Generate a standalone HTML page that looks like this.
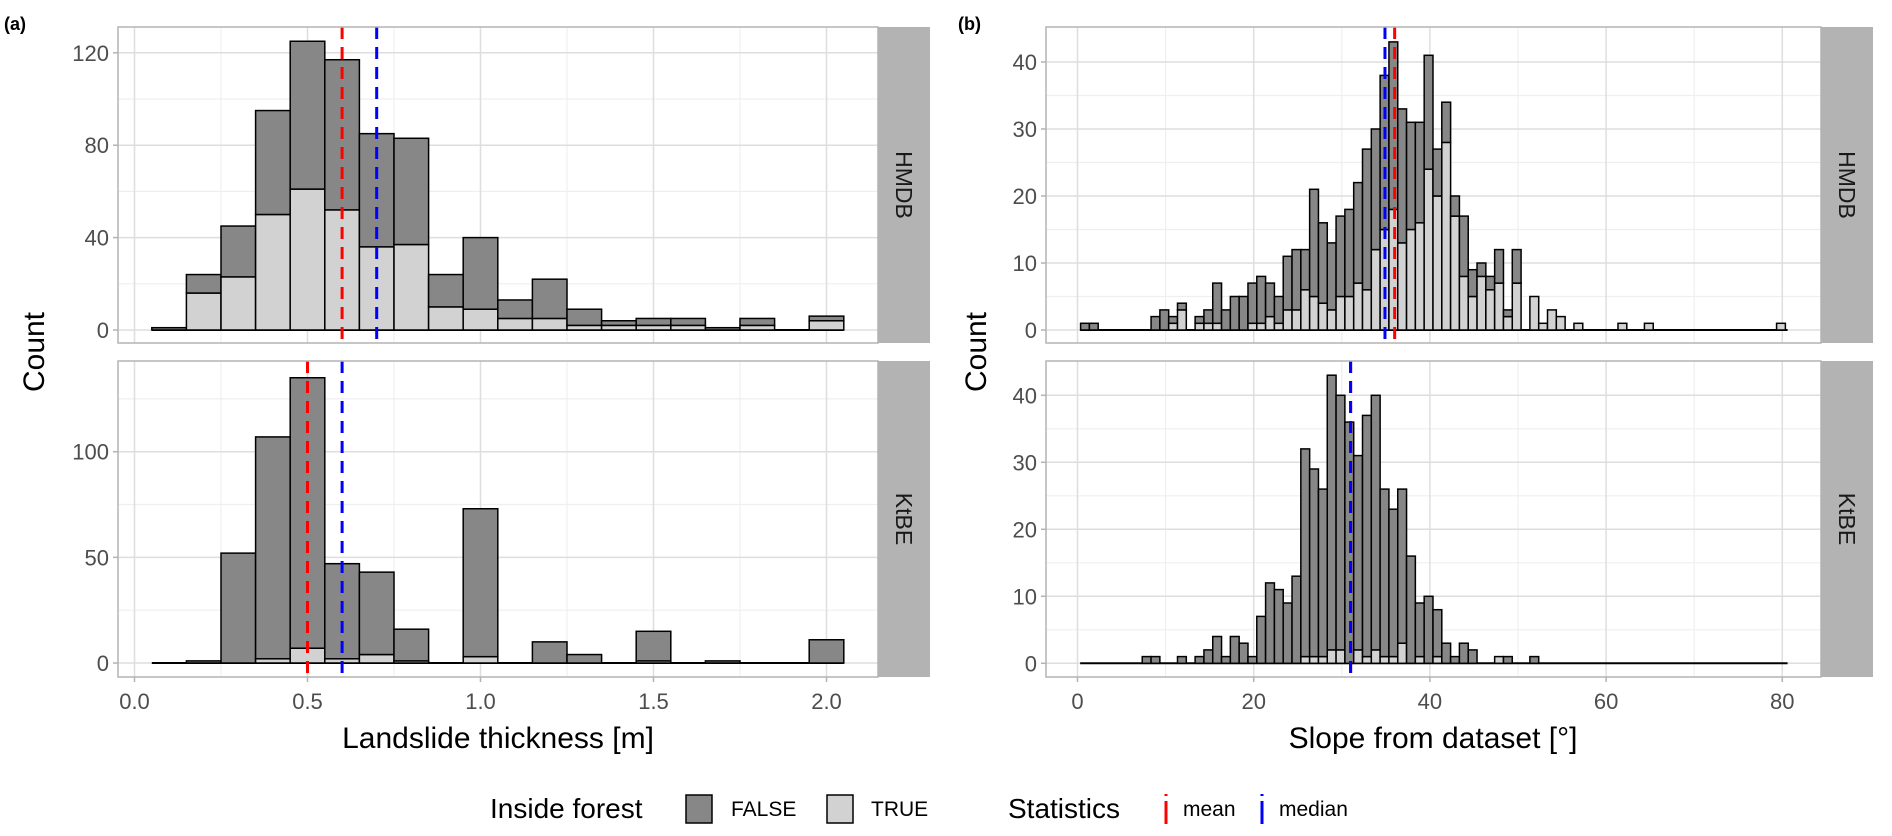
<!DOCTYPE html>
<html><head><meta charset="utf-8"><style>
html,body{margin:0;padding:0;background:#fff;}
svg{display:block;font-family:"Liberation Sans",Arial,sans-serif;}
</style></head><body>
<svg id="chart" width="1892" height="836" viewBox="0 0 1892 836" xmlns="http://www.w3.org/2000/svg"></svg>
<script>
// ---- Panel (a) data: landslide thickness ----
const aCategories = [0.1,0.2,0.3,0.4,0.5,0.6,0.7,0.8,0.9,1.0,1.1,1.2,1.3,1.4,1.5,1.6,1.7,1.8,1.9,2.0];
const aHmdbTotal = [1,24,45,95,125,117,85,83,24,40,13,22,9,4,5,5,1,5,0,6];
const aHmdbTrue  = [0,16,23,50,61,52,36,37,10,9,5,5,2,2,2,2,0,2,0,4];
const aKtbeTotal = [0,1,52,107,135,47,43,16,0,73,0,10,4,0,15,0,1,0,0,11];
const aKtbeTrue  = [0,0,0,2,7,2,4,1,0,3,0,0,0,0,1,0,0,0,0,0];
const aStatsHmdb = [0.6,0.7]; // mean, median
const aStatsKtbe = [0.5,0.6];
const aXTicks = ["0.0","0.5","1.0","1.5","2.0"];
const aYTicksTop = [0,40,80,120];
const aYTicksBot = [0,50,100];
// ---- Panel (b) data: slope ----
const bCategories = Array.from({length:80},(_, i)=>i+1);
const bHmdbTotal = [1,1,0,0,0,0,0,0,2,3, 2,4,0,2,3,7,3,5,5,7, 8,7,5,11,12,12,21,16,13,17, 18,22,27,30,38,43,33,31,31,41, 27,34,20,17,9,10,8,12,3,12, 0,5,1,3,2,0,1,0,0,0, 0,1,0,0,1,0,0,0,0,0, 0,0,0,0,0,0,0,0,0,1];
const bHmdbTrue  = [0,0,0,0,0,0,0,0,0,0, 1,3,0,1,1,1,0,0,0,1, 1,2,1,3,3,6,5,4,3,5, 5,7,6,12,15,18,13,15,16,24, 20,28,17,8,5,8,6,7,2,7, 0,5,1,3,2,0,1,0,0,0, 0,1,0,0,1,0,0,0,0,0, 0,0,0,0,0,0,0,0,0,1];
const bKtbeTotal = [0,0,0,0,0,0,0,1,1,0, 0,1,0,1,2,4,1,4,3,1, 7,12,11,9,13,32,29,26,43,40, 36,31,37,40,26,23,26,16,9,10, 8,3,1,3,2,0,0,1,1,0, 0,1,0,0,0,0,0,0,0,0, 0,0,0,0,0,0,0,0,0,0, 0,0,0,0,0,0,0,0,0,0];
const bKtbeTrue  = [0,0,0,0,0,0,0,0,0,0, 0,0,0,0,0,0,0,0,0,0, 0,0,0,0,0,1,1,1,2,2, 0,2,1,2,1,1,3,0,1,0, 1,0,0,0,0,0,0,1,0,0, 0,0,0,0,0,0,0,0,0,0, 0,0,0,0,0,0,0,0,0,0, 0,0,0,0,0,0,0,0,0,0];
const bStatsHmdb = [36.0,34.9];
const bStatsKtbe = [31.0,31.0];
const bXTicks = [0,20,40,60,80];
const bYTicks = [0,10,20,30,40];

const NS="http://www.w3.org/2000/svg";
const svg=document.getElementById('chart');
function el(tag,attrs,parent){const e=document.createElementNS(NS,tag);for(const k in attrs)e.setAttribute(k,attrs[k]);(parent||svg).appendChild(e);return e;}

const DARK="#878787", LIGHT="#d2d2d2";
const ax=v=>134.5+346*v;
const bx=v=>1077.5+8.81*v;
const panels=[
 {name:'a-hmdb',x0:118,x1:878,y0:27,y1:343,xs:ax,ys:v=>330-2.31*v,yt:aYTicksTop,ymin:[20,60,100],xmaj:[0,0.5,1,1.5,2],xmin:[0.25,0.75,1.25,1.75],cats:aCategories,tot:aHmdbTotal,tru:aHmdbTrue,w:0.1,off:0,st:aStatsHmdb,strip:'HMDB',range:[0.05,2.05]},
 {name:'a-ktbe',x0:118,x1:878,y0:361,y1:677,xs:ax,ys:v=>663-2.113*v,yt:aYTicksBot,ymin:[25,75,125],xmaj:[0,0.5,1,1.5,2],xmin:[0.25,0.75,1.25,1.75],cats:aCategories,tot:aKtbeTotal,tru:aKtbeTrue,w:0.1,off:0,st:aStatsKtbe,strip:'KtBE',range:[0.05,2.05],xl:aXTicks},
 {name:'b-hmdb',x0:1046,x1:1821,y0:27,y1:343,xs:bx,ys:v=>330-6.7*v,yt:bYTicks,ymin:[5,15,25,35],xmaj:[0,20,40,60,80],xmin:[10,30,50,70],cats:bCategories,tot:bHmdbTotal,tru:bHmdbTrue,w:1.0,off:-0.15,st:bStatsHmdb,strip:'HMDB',range:[0.3,80.6]},
 {name:'b-ktbe',x0:1046,x1:1821,y0:361,y1:677,xs:bx,ys:v=>663.3-6.7*v,yt:bYTicks,ymin:[5,15,25,35],xmaj:[0,20,40,60,80],xmin:[10,30,50,70],cats:bCategories,tot:bKtbeTotal,tru:bKtbeTrue,w:1.0,off:-0.15,st:bStatsKtbe,strip:'KtBE',range:[0.3,80.6],xl:bXTicks.map(String)}
];

panels.forEach(p=>{
  const g=el('g',{});
  
  
  // minor grid
  p.ymin.forEach(v=>{const y=p.ys(v);const l=el('line',{x1:p.x0,x2:p.x1,y1:y,y2:y,stroke:'#efefef','stroke-width':1.2},g);});
  p.xmin.forEach(v=>{const x=p.xs(v);const l=el('line',{x1:x,x2:x,y1:p.y0,y2:p.y1,stroke:'#efefef','stroke-width':1.2},g);});
  // major grid
  p.yt.forEach(v=>{const y=p.ys(v);const l=el('line',{x1:p.x0,x2:p.x1,y1:y,y2:y,stroke:'#dedede','stroke-width':1.5},g);});
  p.xmaj.forEach(v=>{const x=p.xs(v);const l=el('line',{x1:x,x2:x,y1:p.y0,y2:p.y1,stroke:'#dedede','stroke-width':1.5},g);});
  // baseline
  const base=el('line',{x1:p.xs(p.range[0]),x2:p.xs(p.range[1]),y1:p.ys(0),y2:p.ys(0),stroke:'#000','stroke-width':2},g);
  
  
  // bars
  p.cats.forEach((c,i)=>{
    const tot=p.tot[i], tr=p.tru[i];
    if(tot<=0)return;
    const xl=p.xs(c+p.off-p.w/2), xr=p.xs(c+p.off+p.w/2);
    const y0=p.ys(0), yt=p.ys(tr), yall=p.ys(tot);
    if(tr>0){
      const r=el('rect',{x:xl,y:yt,width:xr-xl,height:y0-yt,fill:LIGHT,stroke:'#000','stroke-width':1.5},g);
      
      
    }
    if(tot-tr>0){
      const r=el('rect',{x:xl,y:yall,width:xr-xl,height:yt-yall,fill:DARK,stroke:'#000','stroke-width':1.5},g);
      
      
    }
  });
  // stats lines
  const cols=['#ff0000','#0000ff'];
  p.st.forEach((v,k)=>{
    const x=p.xs(v);
    const l=el('line',{x1:x,x2:x,y1:p.y0,y2:p.y1,stroke:cols[k],'stroke-width':3,'stroke-dasharray':'12 8'},g);
    
    
  });
  // border
  const b=el('rect',{x:p.x0,y:p.y0,width:p.x1-p.x0,height:p.y1-p.y0,fill:'none',stroke:'#b3b3b3','stroke-width':1.5},g);
  
  
  // y ticks + labels
  p.yt.forEach(v=>{
    const y=p.ys(v);
    const t=el('line',{x1:p.x0-5,x2:p.x0,y1:y,y2:y,stroke:'#b3b3b3','stroke-width':1.5},g);
    
    
    const tx=el('text',{x:p.x0-9,y:y+8,'text-anchor':'end','font-size':22,fill:'#4d4d4d'},g);
    tx.textContent=String(v);
    
    
  });
  // x ticks on bottom panel
  if(p.xl){
    p.xmaj.forEach((v,k)=>{
      const x=p.xs(v);
      const t=el('line',{x1:x,x2:x,y1:p.y1,y2:p.y1+5,stroke:'#b3b3b3','stroke-width':1.5},g);
      
      
      const tx=el('text',{x:x,y:p.y1+32,'text-anchor':'middle','font-size':22,fill:'#4d4d4d'},g);
      tx.textContent=p.xl[k];
      
      
    });
  }
  // strip
  const s=el('rect',{x:p.x1,y:p.y0,width:52,height:p.y1-p.y0,fill:'#b3b3b3'},g);
  
  
  const cx=p.x1+26, cy=(p.y0+p.y1)/2;
  const st=el('text',{x:cx,y:cy,'text-anchor':'middle','dominant-baseline':'central','font-size':23,fill:'#1a1a1a',transform:`rotate(90 ${cx} ${cy})`},g);
  st.textContent=p.strip;
  
  
});

function txt(x,y,s,size,name,extra){const t=el('text',Object.assign({x:x,y:y,'font-size':size,fill:'#000'},extra||{}));t.textContent=s;return t;}
txt(4,30,'(a)',18,'panel-label-a',{'font-weight':'bold'});
txt(958,30,'(b)',18,'panel-label-b',{'font-weight':'bold'});
txt(498,748,'Landslide thickness [m]',30,'x-axis-title-a',{'text-anchor':'middle'});
txt(1433,748,'Slope from dataset [°]',30,'x-axis-title-b',{'text-anchor':'middle'});
txt(44,352,'Count',30,'y-axis-title-a',{'text-anchor':'middle',transform:'rotate(-90 44 352)'});
txt(986,352,'Count',30,'y-axis-title-b',{'text-anchor':'middle',transform:'rotate(-90 986 352)'});

// legend
txt(490,818,'Inside forest',28,'legend-title-forest');
let r=el('rect',{x:686,y:795,width:26,height:28,fill:DARK,stroke:'#000','stroke-width':1.5});


txt(731,816,'FALSE',21,'legend-label-false');
r=el('rect',{x:827,y:795,width:26,height:28,fill:LIGHT,stroke:'#000','stroke-width':1.5});


txt(871,816,'TRUE',21,'legend-label-true');
txt(1008,818,'Statistics',28,'legend-title-statistics');
let k=el('line',{x1:1166,x2:1166,y1:794,y2:824,stroke:'#ff0000','stroke-width':3,'stroke-dasharray':'2 5 23 0'});


txt(1183,816,'mean',21,'legend-label-mean');
k=el('line',{x1:1262,x2:1262,y1:794,y2:824,stroke:'#0000ff','stroke-width':3,'stroke-dasharray':'2 5 23 0'});


txt(1279,816,'median',21,'legend-label-median');
</script>
</body></html>
